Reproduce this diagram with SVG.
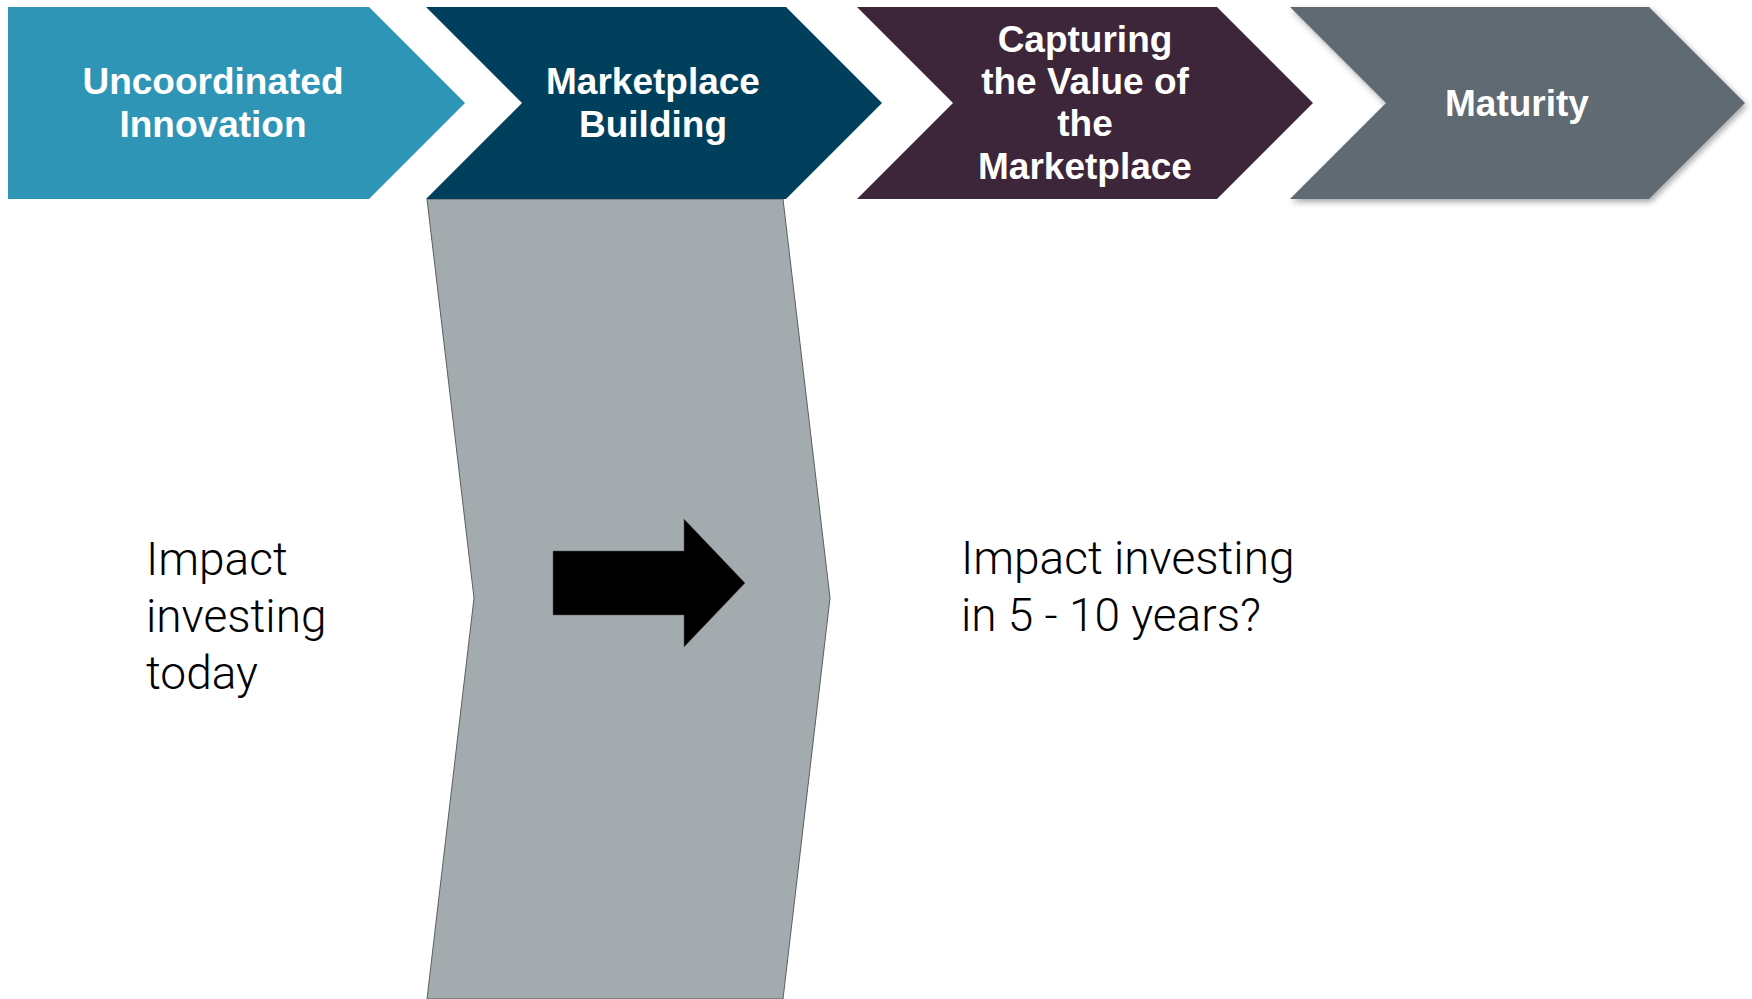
<svg xmlns="http://www.w3.org/2000/svg" width="1752" height="999" viewBox="0 0 1752 999">
<style>
.lbl{font-family:"Liberation Sans",Arial,sans-serif;font-weight:bold;font-size:37px;fill:#ffffff;text-anchor:middle}
.body{font-family:"Helvetica Neue","Roboto","Liberation Sans",sans-serif;font-weight:300;font-size:46px;fill:#000000}
</style>
<defs>
<filter id="sh" x="-10%" y="-10%" width="120%" height="130%">
<feDropShadow dx="2" dy="3" stdDeviation="3" flood-color="#000" flood-opacity="0.35"/>
</filter>
</defs>
<rect width="1752" height="999" fill="#ffffff"/>
<g id="band">
<polygon points="427,199 783,199 830,598 783,999 427,999 474,598" fill="#a4abae" stroke="#5a5f62" stroke-width="1"/>
</g>
<g id="stage1">
<polygon points="8,7 369,7 465,103 369,199 8,199" fill="#2e95b6"/>
<text class="lbl"><tspan x="213" y="94">Uncoordinated</tspan><tspan x="213" y="137">Innovation</tspan></text>
</g>
<g id="stage2">
<polygon points="426,7 786,7 882,103 786,199 426,199 522,103" fill="#01405d"/>
<text class="lbl"><tspan x="653" y="94">Marketplace</tspan><tspan x="653" y="137">Building</tspan></text>
</g>
<g id="stage3">
<polygon points="857,7 1217,7 1313,103 1217,199 857,199 953,103" fill="#3d2639"/>
<text class="lbl"><tspan x="1085" y="52">Capturing</tspan><tspan x="1085" y="94">the Value of</tspan><tspan x="1085" y="136">the</tspan><tspan x="1085" y="179">Marketplace</tspan></text>
</g>
<g id="stage4">
<polygon points="1290,7 1649,7 1745,103 1649,199 1290,199 1386,103" fill="#606a73" filter="url(#sh)"/>
<text class="lbl" x="1517" y="116">Maturity</text>
</g>
<g id="connectors">
<polygon points="553,551 684,551 684,519 745,583 684,647 684,615 553,615" fill="#000000" stroke="#555" stroke-width="0.5"/>
</g>
<g id="today">
<text class="body"><tspan x="146" y="575">Impact</tspan><tspan x="146" y="632">investing</tspan><tspan x="146" y="689">today</tspan></text>
</g>
<g id="future">
<text class="body"><tspan x="961" y="574">Impact investing</tspan><tspan x="961" y="631">in 5 - 10 years?</tspan></text>
</g>
</svg>
